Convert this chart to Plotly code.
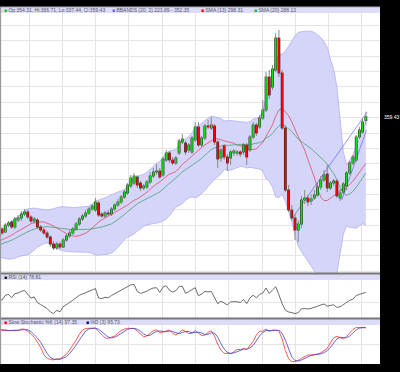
import numpy as np
import pandas as pd
import plotly.graph_objects as go

# ---- data (prices) ----
warm_open = [182.0, 179.5, 176.0, 173.5, 176.5, 170.5, 166.5, 173.5, 178.0, 174.0, 169.0, 165.0, 171.5,
             176.0, 181.0, 177.5, 173.5, 178.5, 184.0, 181.5, 187.5, 191.0, 187.5, 192.5, 196.5]
warm_high = [184.5, 181.0, 177.5, 179.0, 177.5, 172.0, 175.0, 180.5, 179.5, 175.5, 170.0, 173.5, 177.5,
             183.0, 182.5, 178.5, 180.5, 186.5, 185.5, 189.0, 193.5, 192.5, 194.5, 199.0, 202.0]
warm_low = [178.0, 174.0, 171.0, 172.0, 168.5, 164.0, 165.0, 172.0, 172.5, 167.0, 162.5, 164.0, 170.0,
            174.5, 175.5, 171.5, 172.0, 177.0, 179.5, 180.0, 186.0, 185.0, 186.0, 191.0, 195.0]
warm_close = [180.0, 175.8, 173.0, 177.2, 170.2, 166.0, 173.0, 178.6, 174.4, 168.8, 164.6, 171.6, 175.8,
              181.4, 177.2, 173.0, 178.6, 184.2, 181.4, 187.0, 191.2, 187.0, 192.6, 196.8, 199.6]

opens = [202.4, 198.2, 208, 212.2, 205.2, 215, 217.8, 223.4, 226.2, 219.2,
         213.6, 215, 205.2, 201, 196.8, 191.2, 181.4, 175.8, 181.4, 177.2,
         187, 192.6, 196.8, 202.4, 209.4, 216.4, 220.6, 224.8, 230.4, 229,
         238.8, 223.4, 220.6, 224.8, 223.4, 230.4, 236, 240.2, 247.2, 252.8,
         262.6, 266.8, 275.2, 266.8, 259.8, 261.2, 268.2, 276.6, 282.2, 283.6,
         278, 299, 308.8, 299, 294.8, 308.8, 324.2, 322.8, 313, 310.2,
         327, 345.2, 320, 329.8, 346.6, 343.8, 346.6, 324.2, 301.8, 318.6,
         303.2, 301.8, 308.8, 308.8, 310.2, 310.2, 320, 313, 331.2, 348,
         345.2, 357.8, 369, 415.2, 401.2, 425, 469.8, 420.8, 343.8, 257,
         229, 217.8, 201, 209.4, 243, 245.8, 241.6, 245.8, 250, 261.2,
         271, 279.4, 259.8, 266.8, 269.6, 245.8, 254.2, 262.6, 280.8, 294.8,
         299, 331.2, 338.2, 354.31]
highs = [205.2, 210.8, 213.6, 215, 219.2, 222, 227.6, 230.4, 229, 222,
         219.2, 217.8, 208, 203.8, 199.6, 194, 185.6, 184.2, 184.2, 189.8,
         195.4, 201, 205.2, 212.2, 219.2, 223.4, 229, 233.2, 237.4, 245.8,
         241.6, 226.2, 227.6, 229, 233.2, 238.8, 244.4, 250, 257, 266.8,
         278, 280.8, 278, 269.6, 265.4, 271, 282.2, 287.8, 293.4, 287.8,
         303.2, 313, 311.6, 303.2, 304.6, 328.4, 335.4, 325.6, 322.8, 332.6,
         352.2, 352.2, 332.6, 349.4, 355, 359.2, 349.4, 327, 315.8, 321.4,
         307.4, 313, 314.4, 313, 313, 322.8, 322.8, 334, 352.2, 350.8,
         362, 383, 422.2, 425, 432, 476.8, 481, 425, 348, 264,
         236, 223.4, 215, 248.6, 257, 250, 251.4, 257, 268.2, 276.6,
         285, 292, 269.6, 272.4, 272.4, 258.4, 268.2, 283.6, 297.6, 306,
         334, 345.2, 357.8, 366.71]
lows = [194, 196.8, 205.2, 202.4, 202.4, 212.2, 213.6, 220.6, 216.4, 210.8,
        209.4, 202.4, 198.2, 194, 188.4, 177.2, 173, 173, 174.4, 175.8,
        184.2, 189.8, 194, 199.6, 206.6, 213.6, 217.8, 222, 227.6, 226.2,
        219.2, 217.8, 217.8, 220.6, 220.6, 227.6, 233.2, 237.4, 244.4, 250,
        259.8, 264, 259.8, 255.6, 257, 258.4, 265.4, 273.8, 278, 272.4,
        275.2, 296.2, 294.8, 292, 292, 306, 321.4, 306, 308.8, 307.4,
        324.2, 317.2, 317.2, 327, 342.4, 341, 320, 287.8, 296.2, 299,
        283.6, 292, 304.6, 304.6, 303.2, 306, 292, 310.2, 328.4, 332.6,
        342.4, 355, 366.2, 384.4, 397, 422.2, 415.2, 341, 254.2, 226.2,
        213.6, 187, 184.2, 203.8, 237.4, 234.6, 236, 243, 247.2, 257,
        268.2, 254.2, 257, 262.6, 245.8, 241.6, 250, 257, 278, 292,
        296.2, 328.4, 335.4, 349]
closes = [196.8, 208, 210.8, 205.2, 216.4, 217.8, 223.4, 226.2, 219.2, 213.6,
          216.4, 205.2, 201, 196.8, 191.2, 181.4, 175.8, 181.4, 177.2, 187,
          192.6, 196.8, 202.4, 209.4, 216.4, 220.6, 224.8, 230.4, 234.6, 240.2,
          222, 220.6, 224.8, 223.4, 230.4, 236, 240.2, 247.2, 254.2, 264,
          273.8, 276.6, 264, 259.8, 262.6, 268.2, 276.6, 282.2, 283.6, 275.2,
          300.4, 308.8, 299, 294.8, 301.8, 325.6, 328.4, 310.2, 320, 329.8,
          345.2, 320, 329.8, 346.6, 345.2, 348, 324.2, 300.4, 313, 303.2,
          294.8, 310.2, 311.6, 310.2, 307.4, 320, 303.2, 331.2, 348, 336.8,
          357.8, 369, 415.2, 390, 426.4, 469.8, 420.8, 343.8, 257, 229,
          217.8, 201, 209.4, 243, 245.8, 240.2, 244.4, 250, 261.2, 271,
          278, 259.8, 266.8, 269.6, 248.6, 252.8, 265.4, 280.8, 294.8, 303.2,
          331.2, 341, 352.2, 359.43]

trend1_x = [90.4, 113.4]
trend1_y = [219.2, 366.2]
trend2_x = [105.5, 113.2]
trend2_y = [243.0, 341.0]

last_label = "359.43"
hdr_ohlc = "Op:354.31, Hi:366.71, Lo:337.44, Cl:359.43"
hdr_bb = "BBANDS (20, 2) 223.89 - 352.35"
hdr_sma13 = "SMA (13) 298.31"
hdr_sma20 = "SMA (20) 288.13"
hdr_rsi = "RSI (14) 78.81"
hdr_k = "Slow Stochastic %K (14) 97.35"
hdr_d = "%D (3) 95.73"

# ---- assemble ----
O = np.array(warm_open + opens, dtype=float)
H = np.array(warm_high + highs, dtype=float)
L = np.array(warm_low + lows, dtype=float)
C = np.array(warm_close + closes, dtype=float)
n_w = len(warm_close)
idx = np.arange(len(C)) - n_w

cs = pd.Series(C)
sma13 = cs.rolling(13).mean()
sma20 = cs.rolling(20).mean()
sd20 = cs.rolling(20).std(ddof=0)
bb_up = sma20 + 2 * sd20
bb_lo = sma20 - 2 * sd20

delta = cs.diff()
gain = delta.clip(lower=0)
loss = (-delta).clip(lower=0)
ag = gain.ewm(alpha=1 / 14, adjust=False).mean()
al = loss.ewm(alpha=1 / 14, adjust=False).mean()
rsi = 100 - 100 / (1 + ag / al)

ll = pd.Series(L).rolling(14).min()
hh = pd.Series(H).rolling(14).max()
fastk = 100 * (cs - ll) / (hh - ll)
slowk = fastk.rolling(3).mean()
slowd = slowk.rolling(3).mean()

def clean(s):
    return [None if pd.isna(v) else float(v) for v in s]

fig = go.Figure()

# Bollinger band
fig.add_trace(go.Scatter(x=idx, y=clean(bb_lo), mode="lines",
                         line=dict(color="#a8a8ee", width=0.7), xaxis="x", yaxis="y"))
fig.add_trace(go.Scatter(x=idx, y=clean(bb_up), mode="lines", fill="tonexty",
                         fillcolor="rgba(208,208,250,0.9)",
                         line=dict(color="#a8a8ee", width=0.7), xaxis="x", yaxis="y"))
fig.add_trace(go.Scatter(x=idx, y=clean(sma13), mode="lines",
                         line=dict(color="#e03a4a", width=0.7), xaxis="x", yaxis="y"))
fig.add_trace(go.Scatter(x=idx, y=clean(sma20), mode="lines",
                         line=dict(color="#3a9a66", width=0.7), xaxis="x", yaxis="y"))
fig.add_trace(go.Scatter(x=trend1_x, y=trend1_y, mode="lines",
                         line=dict(color="#5050f0", width=0.6), xaxis="x", yaxis="y"))
fig.add_trace(go.Scatter(x=trend2_x, y=trend2_y, mode="lines",
                         line=dict(color="#5050f0", width=0.6), xaxis="x", yaxis="y"))

# wicks
wx, wy = [], []
for i, h, l in zip(idx, H, L):
    wx += [i, i, None]
    wy += [l, h, None]
fig.add_trace(go.Scatter(x=wx, y=wy, mode="lines", line=dict(color="#8a8a8a", width=1),
                         xaxis="x", yaxis="y"))

# bodies (drawn as thick vertical segments, outline + fill)
gx, gy, rx, ry, ax, ay = [], [], [], [], [], []
for i, o, c in zip(idx, O, C):
    lo_, hi_ = min(o, c), max(o, c)
    if hi_ - lo_ < 1.2:
        m = (hi_ + lo_) / 2
        lo_, hi_ = m - 0.6, m + 0.6
    ax += [i, i, None]
    ay += [lo_ - 0.5, hi_ + 0.5, None]
    if c >= o:
        gx += [i, i, None]
        gy += [lo_, hi_, None]
    else:
        rx += [i, i, None]
        ry += [lo_, hi_, None]
fig.add_trace(go.Scatter(x=ax, y=ay, mode="lines", line=dict(color="#2a2a2a", width=2.8),
                         xaxis="x", yaxis="y"))
fig.add_trace(go.Scatter(x=gx, y=gy, mode="lines", line=dict(color="#10e010", width=1.7),
                         xaxis="x", yaxis="y"))
fig.add_trace(go.Scatter(x=rx, y=ry, mode="lines", line=dict(color="#ff0000", width=1.7),
                         xaxis="x", yaxis="y"))

# RSI
fig.add_trace(go.Scatter(x=idx, y=clean(rsi), mode="lines",
                         line=dict(color="#484848", width=0.8), xaxis="x2", yaxis="y2"))
# Stochastic
fig.add_trace(go.Scatter(x=idx, y=clean(slowk), mode="lines",
                         line=dict(color="#ff3030", width=0.8), xaxis="x3", yaxis="y3"))
fig.add_trace(go.Scatter(x=idx, y=clean(slowd), mode="lines",
                         line=dict(color="#4040c8", width=0.8), xaxis="x3", yaxis="y3"))

rv = rsi.iloc[n_w:]
rlo, rhi = float(rv.min()), float(rv.max())
rpad = 0.15 * (rhi - rlo)
rsi_range = [rlo - rpad, rhi + rpad]

W, Hh = 400, 372
PT, PB = 7, 364
PH = PB - PT

def py(y):
    return (PB - y) / PH

def px(x):
    return x / 380.0

xr = [-0.62, 117.39]
xcommon = dict(range=xr, showticklabels=False, showgrid=True, gridcolor="#e4e4e4", gridwidth=1,
               tick0=8.39, dtick=10.34, zeroline=False, showline=False, ticks="")

shapes = [
    dict(type="rect", xref="paper", yref="paper", x0=0, x1=1, y0=0, y1=1,
         fillcolor="white", line=dict(width=0), layer="below"),
    dict(type="rect", xref="paper", yref="paper", x0=0, x1=1, y0=py(13), y1=py(7),
         fillcolor="#dcdcf8", line=dict(width=0), layer="below"),
    dict(type="rect", xref="paper", yref="paper", x0=0, x1=1, y0=py(280), y1=py(274),
         fillcolor="#dcdcf8", line=dict(width=0), layer="below"),
    dict(type="rect", xref="paper", yref="paper", x0=0, x1=1, y0=py(325), y1=py(319),
         fillcolor="#dcdcf8", line=dict(width=0), layer="below"),
    dict(type="line", xref="paper", yref="paper", x0=0, x1=1, y0=py(273.5), y1=py(273.5),
         line=dict(color="#777777", width=2)),
    dict(type="line", xref="paper", yref="paper", x0=0, x1=1, y0=py(318.5), y1=py(318.5),
         line=dict(color="#777777", width=2)),
    dict(type="line", xref="paper", yref="paper", x0=0, x1=1, y0=1, y1=1,
         line=dict(color="#aaaaaa", width=1)),
    dict(type="line", xref="paper", yref="paper", x0=0.001, x1=0.001, y0=0, y1=1,
         line=dict(color="#999999", width=1.5)),
]

fs = 5.0
tc = "#555566"
def hdr(xp, ycenter, sq, text):
    return dict(xref="paper", yref="paper", x=px(xp), y=py(ycenter), xanchor="left", yanchor="middle",
                showarrow=False, text=f'<span style="color:{sq}">■</span> {text}',
                font=dict(size=fs, color=tc, family="Liberation Sans"))

annotations = [
    hdr(2, 10, "#10c010", hdr_ohlc),
    hdr(110, 10, "#6a6ae0", hdr_bb),
    hdr(199, 10, "#ff0000", hdr_sma13),
    hdr(252, 10, "#10c010", hdr_sma20),
    hdr(2, 277, "#000000", hdr_rsi),
    hdr(2, 322, "#ff0000", hdr_k),
    hdr(84, 322, "#000080", hdr_d),
    dict(xref="paper", yref="y", x=1.0, y=closes[-1], xanchor="left", yanchor="middle",
         xshift=2, yshift=0, showarrow=False, text=last_label,
         font=dict(size=fs, color="white", family="Liberation Sans")),
]

fig.update_layout(
    width=W, height=Hh, autosize=False,
    margin=dict(l=0, r=20, t=PT, b=372 - PB, pad=0),
    paper_bgcolor="black", plot_bgcolor="rgba(0,0,0,0)",
    showlegend=False, hovermode=False,
    xaxis=dict(domain=[0, 1], anchor="y", **xcommon),
    xaxis2=dict(domain=[0, 1], anchor="y2", matches="x", **xcommon),
    xaxis3=dict(domain=[0, 1], anchor="y3", matches="x", **xcommon),
    yaxis=dict(domain=[py(273), py(13)], range=[140.8, 504.8], tick0=336.8, dtick=21.5,
               showticklabels=False, showgrid=True, gridcolor="#e4e4e4", zeroline=False, ticks=""),
    yaxis2=dict(domain=[py(318), py(280)], range=rsi_range, tickvals=[50],
                showticklabels=False, showgrid=True, gridcolor="#e4e4e4", zeroline=False, ticks=""),
    yaxis3=dict(domain=[0, py(325)], range=[-5, 103], tickvals=[50],
                showticklabels=False, showgrid=True, gridcolor="#e4e4e4", zeroline=False, ticks=""),
    shapes=shapes, annotations=annotations,
)

fig.write_html("out.html", config={"displayModeBar": False, "staticPlot": True},
               post_script="document.body.style.margin='0';document.body.style.padding='0';"
                           "document.body.style.overflow='hidden';")
